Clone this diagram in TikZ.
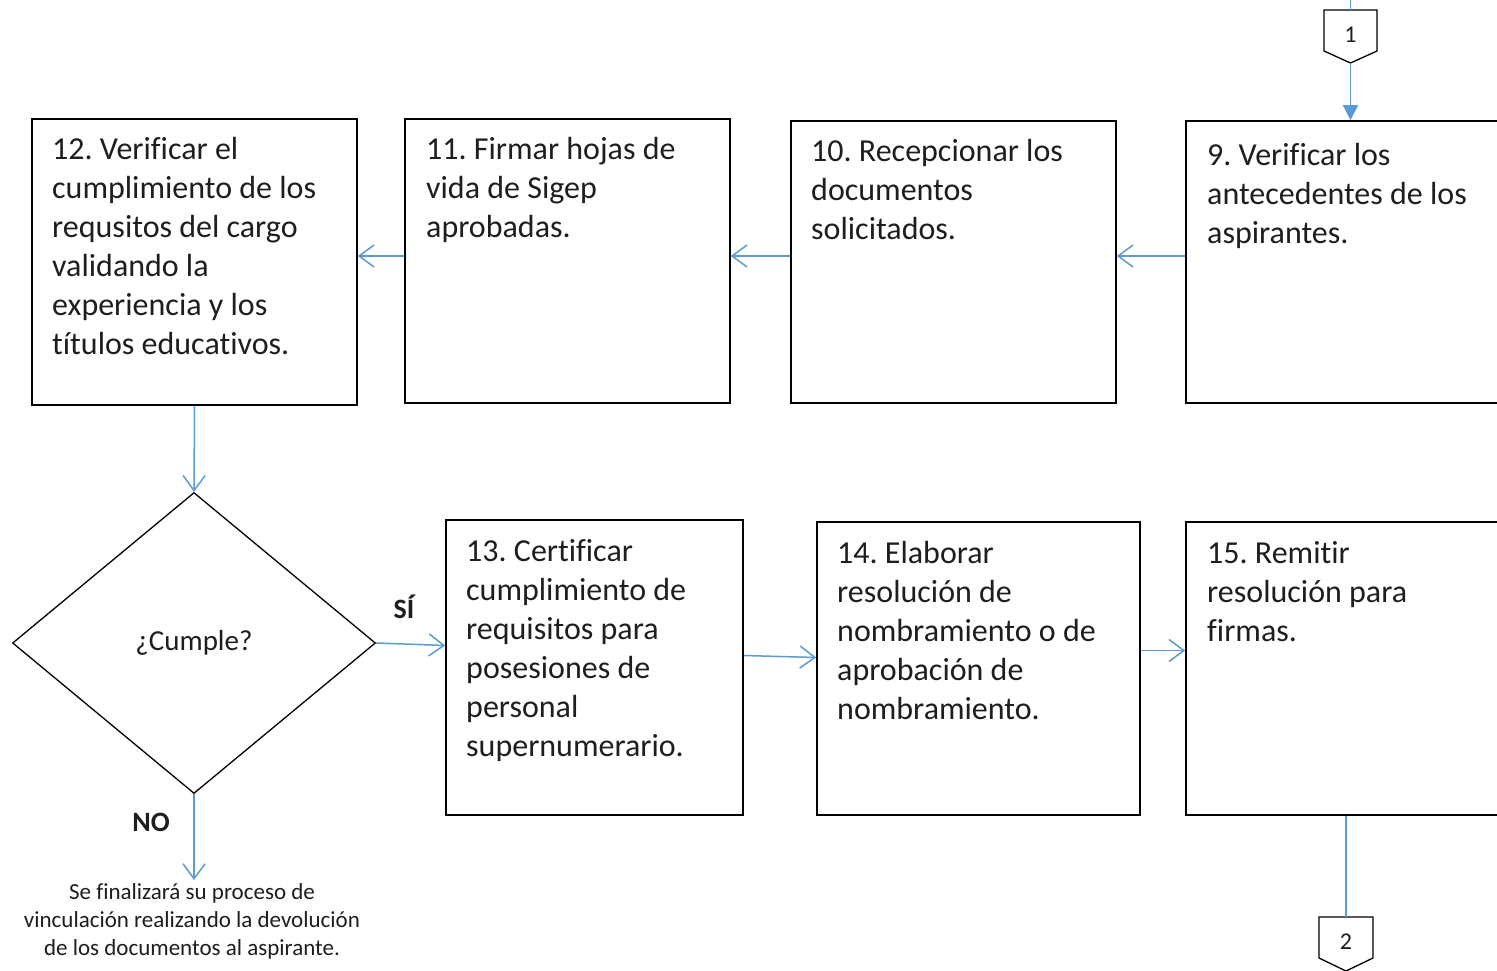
\documentclass[tikz,border=0pt]{standalone}
\usepackage{fontspec}
\setmainfont{Carlito}[Ligatures={NoCommon}]
\usetikzlibrary{arrows.meta,shapes.geometric}
\definecolor{lblue}{RGB}{91,155,213}
\definecolor{txt}{RGB}{30,30,30}
\frenchspacing
\begin{document}
\begin{tikzpicture}[x=1pt,y=-1pt,
 box/.style={draw=black, line width=1.6pt, rectangle, inner sep=0pt},
 btext/.style={anchor=north west, inner sep=0pt, align=left, text=txt, font=\fontsize{32}{39}\selectfont},
 flow/.style={draw=lblue, line width=1.5pt, -{Straight Barb[length=15pt,width=22pt]}},
 plain/.style={draw=lblue, line width=1.5pt},
 conn/.style={draw=black, line width=1.3pt},
 lbl/.style={inner sep=0pt, text=txt, font=\fontsize{28}{33}\selectfont\bfseries},
]
\clip (0,0) rectangle (1497,970);
\fill[white] (0,0) rectangle (1497,970);
% boxes
\node[box, minimum width=325pt, minimum height=286pt] (b12) at (194.5,262) {};
\node[box, minimum width=325pt, minimum height=284pt] (b11) at (567.5,261) {};
\node[box, minimum width=325pt, minimum height=282pt] (b10) at (953.5,262) {};
\node[box, minimum width=325pt, minimum height=282pt] (b9) at (1348.5,262) {};
\node[box, minimum width=297pt, minimum height=295pt] (b13) at (594.5,667.5) {};
\node[box, minimum width=323pt, minimum height=293pt] (b14) at (978.5,668.5) {};
\node[box, minimum width=325pt, minimum height=293pt] (b15) at (1348.5,668.5) {};
% texts
\node[btext] (t12) at (52,132) {\strut 12. Verificar el\\cumplimiento de los\\requsitos del cargo\\validando la\\experiencia y los\\títulos educativos.};
\node[btext] (t11) at (426,132) {\strut 11. Firmar hojas de\\vida de Sigep\\aprobadas.};
\node[btext] (t10) at (811,134) {\strut 10. Recepcionar los\\documentos\\solicitados.};
\node[btext] (t9) at (1207,138) {\strut 9. Verificar los\\antecedentes de los\\aspirantes.};
\node[btext] (t13) at (466,534) {\strut 13. Certificar\\cumplimiento de\\requisitos para\\posesiones de\\personal\\supernumerario.};
\node[btext] (t14) at (837,536) {\strut 14. Elaborar\\resolución de\\nombramiento o de\\aprobación de\\nombramiento.};
\node[btext] (t15) at (1207,536) {\strut 15. Remitir\\resolución para\\firmas.};
% decision
\node[diamond, draw=black, line width=1.3pt, minimum width=363pt, minimum height=301pt, inner sep=0pt, text=txt, font=\fontsize{29}{34}\selectfont] (d) at (194,643) {¿Cumple?};
\node[lbl] (si) at (404,607) {SÍ};
\node[lbl] (no) at (151,822) {NO};
\node[anchor=north, inner sep=0pt, align=center, text=txt, font=\fontsize{23}{28}\selectfont] (fin) at (192,880) {\strut Se finalizará su proceso de\\vinculación realizando la devolución\\de los documentos al aspirante.};
% off-page connectors
\coordinate (c1t) at (1350.5,10);
\coordinate (c1b) at (1350.5,63);
\draw[conn] (1324,10) -- (1377,10) -- (1377,51) -- (c1b) -- (1324,51) -- cycle;
\node[inner sep=0pt, text=txt, font=\fontsize{24}{28}\selectfont] (c1) at (1350.5,35) {1};
\coordinate (c2t) at (1346,917);
\draw[conn] (1319,917) -- (1373,917) -- (1373,958) -- (1346,971) -- (1319,958) -- cycle;
\node[inner sep=0pt, text=txt, font=\fontsize{24}{28}\selectfont] (c2) at (1346,942) {2};
% connectors
\draw[plain] (c1t) -- (1350.5,0);
\draw[draw=lblue, line width=1.5pt, -{Triangle[length=15pt,width=15pt]}] (c1b) -- (c1b |- b9.north);
\draw[flow] ([yshift=6pt]b9.west) -- ([yshift=6pt]b10.east);
\draw[flow] ([yshift=6pt]b10.west) -- ([yshift=5pt]b11.east);
\draw[flow] ([yshift=5pt]b11.west) -- ([yshift=6pt]b12.east);
\draw[flow] (b12.south) -- (d.north);
\draw[flow] (d.east) -- ([yshift=22pt]b13.west);
\draw[flow] ([yshift=12pt]b13.east) -- ([yshift=11pt]b14.west);
\draw[flow] ([yshift=18pt]b14.east) -- ([yshift=18pt]b15.west);
\draw[flow] (d.south) -- (d.south |- fin.north);
\draw[plain] (c2t) -- (c2t |- b15.south);
\end{tikzpicture}
\end{document}
